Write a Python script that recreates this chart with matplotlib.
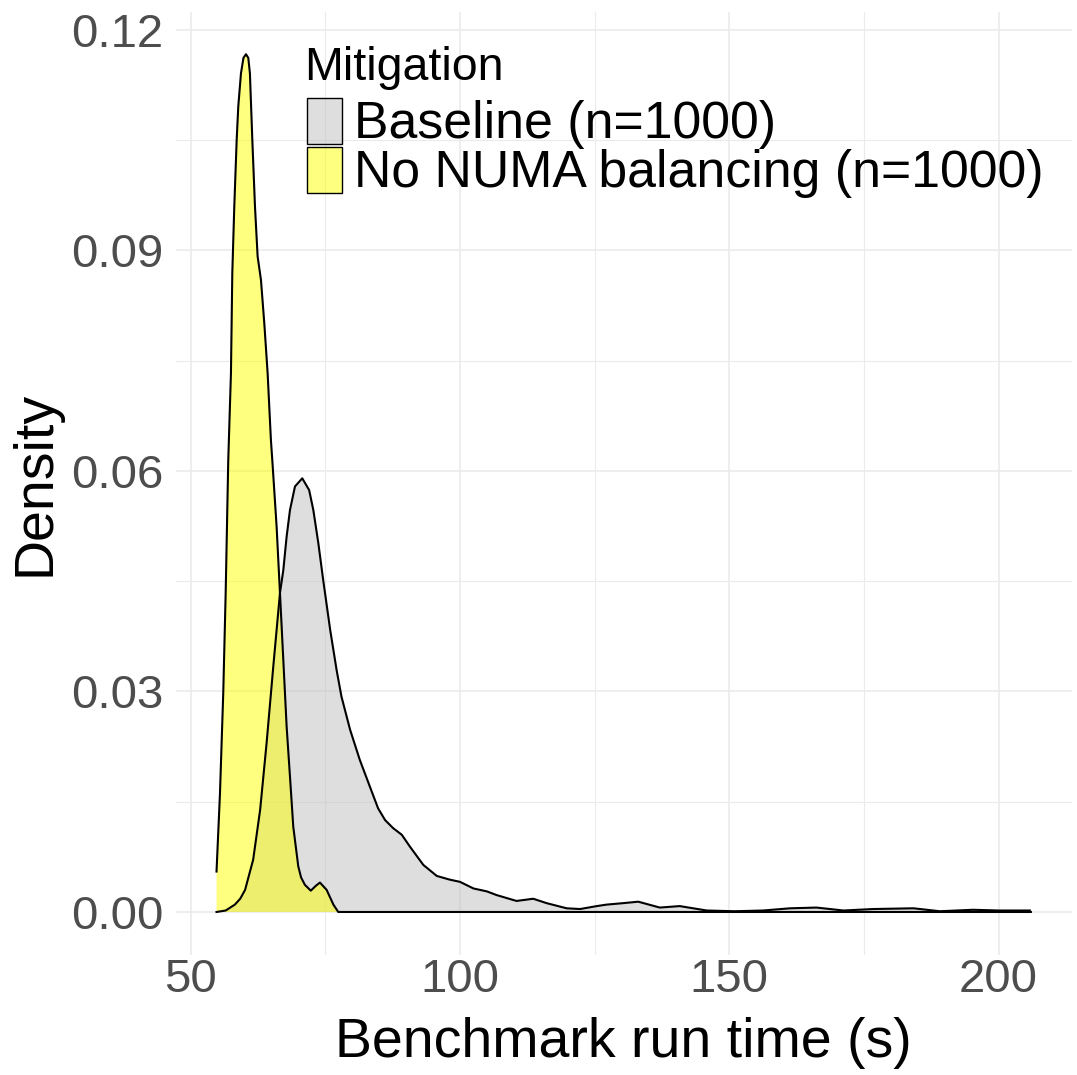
import matplotlib
matplotlib.use("Agg")
import matplotlib.pyplot as plt
from matplotlib.ticker import FormatStrFormatter, MultipleLocator
from matplotlib.patches import Rectangle

plt.rcParams['font.family'] = ['Liberation Sans', 'DejaVu Sans']

# density curves (run time in s, density)
base_x = [54.8, 56.5, 58.2, 59.2, 60.1, 61.6, 62.9, 64.1, 65.34, 66.58, 67.2, 67.82,
          68.44, 69.37, 70.72, 72.0, 72.77, 73.7, 74.6, 75.9, 77.1, 78.0, 79.6, 81.4,
          83.3, 84.8, 86.1, 87.6, 89.2, 90.7, 93.2, 95.7, 98.1, 100.0, 102.5, 105.0,
          106.8, 110.5, 113.6, 116.1, 119.8, 122.3, 125.4, 127.2, 130.3, 133.1, 137.1,
          140.8, 145.8, 151.0, 156.3, 161.3, 166.2, 171.2, 176.7, 184.2, 189.1, 195.3,
          200.0, 205.8]
base_y = [0.0, 0.0002, 0.001, 0.0018, 0.003, 0.0071, 0.0139, 0.023, 0.0334, 0.0434, 0.0465, 0.0511,
          0.0547, 0.0579, 0.059, 0.0574, 0.0547, 0.0502, 0.0452, 0.0384, 0.0329, 0.0293, 0.0248, 0.0207,
          0.017, 0.0141, 0.0125, 0.0114, 0.0105, 0.0089, 0.0064, 0.0049, 0.0044, 0.0041, 0.0032, 0.0028,
          0.0023, 0.0015, 0.0018, 0.0012, 0.0005, 0.0004, 0.0008, 0.001, 0.0012, 0.0014, 0.0006,
          0.0008, 0.0002, 0.0001, 0.0002, 0.0005, 0.0006, 0.0002, 0.0004, 0.0005, 0.0001, 0.0003,
          0.0002, 0.0002]

numa_x = [54.8, 55.44, 56.05, 56.5, 56.98, 57.48, 57.73, 58.1, 58.54, 58.84, 59.34,
          59.8, 60.27, 60.7, 61.0, 61.45, 61.94, 62.43, 63.05, 63.67, 64.29, 64.9,
          65.2, 65.96, 66.58, 67.2, 67.82, 68.44, 69.05, 69.98, 70.5, 71.2, 72.3, 73.3,
          74.0, 75.25, 76.5, 77.4, 80.0, 206.0]
numa_y = [0.0055, 0.0161, 0.0298, 0.0434, 0.0615, 0.0733, 0.0869, 0.096, 0.105, 0.1096, 0.1141,
          0.1162, 0.1167, 0.1162, 0.1141, 0.105, 0.096, 0.0892, 0.086, 0.0801, 0.0733, 0.0642,
          0.061, 0.0524, 0.0434, 0.0343, 0.0252, 0.0184, 0.0116, 0.0062, 0.0047, 0.0037, 0.0029,
          0.0036, 0.004, 0.003, 0.001, 0.0, 0.0, 0.0]

labels = ['Baseline (n=1000)', 'No NUMA balancing (n=1000)']
colors = ['#bebebe', '#ffff00']
series = [(base_x, base_y), (numa_x, numa_y)]

W, H = 1077, 1075
fig = plt.figure(figsize=(W / 100, H / 100), dpi=100)
# panel in pixels: left 175.8, right 1071.6, top 11.6, bottom 954.9
ax = fig.add_axes([175.8 / W, 1 - 954.9 / H, (1071.6 - 175.8) / W, (954.9 - 11.6) / H])

for (x, y), c in zip(series, colors):
    ax.fill_between(x, y, 0, facecolor=c, alpha=0.5, linewidth=0)
    ax.plot(x, y, color='black', linewidth=1.5, solid_joinstyle='round')

ax.set_xlim(47.24, 213.56)
ax.set_ylim(-0.00584, 0.1225)
ax.xaxis.set_major_locator(MultipleLocator(50))
ax.xaxis.set_minor_locator(MultipleLocator(25))
ax.yaxis.set_major_locator(MultipleLocator(0.03))
ax.yaxis.set_minor_locator(MultipleLocator(0.015))
ax.yaxis.set_major_formatter(FormatStrFormatter('%.2f'))

ax.grid(which='major', color='#ebebeb', linewidth=1.2)
ax.grid(which='minor', color='#ebebeb', linewidth=0.8)
ax.set_axisbelow(True)
for s in ax.spines.values():
    s.set_visible(False)
ax.tick_params(which='both', length=0)
ax.tick_params(axis='x', labelsize=34, labelcolor='#4d4d4d', pad=2.5)
ax.tick_params(axis='y', labelsize=34, labelcolor='#4d4d4d', pad=9.2)

ax.set_xlabel('Benchmark run time (s)', fontsize=40, va='baseline')
ax.xaxis.set_label_coords(0.5, -(1057 - 954.9) / (954.9 - 11.6))
ax.set_ylabel('Density', fontsize=40, va='center')
ax.yaxis.set_label_coords((36 - 175.8) / (1071.6 - 175.8), 0.5)

# legend, laid out like ggplot's
fig.text(304 / W, 1 - 80 / H, 'Mitigation', fontsize=33.5, va='baseline', ha='left')
key_top = [98.3, 146.7]
text_base = [138.3, 186.7]
for lab, c, kt, tb in zip(labels, colors, key_top, text_base):
    fig.patches.append(Rectangle((306.7 / W, 1 - (kt + 46) / H), 35 / W, 46 / H,
                                 transform=fig.transFigure, facecolor=c, alpha=0.5,
                                 edgecolor='none'))
    fig.patches.append(Rectangle((306.7 / W, 1 - (kt + 46) / H), 35 / W, 46 / H,
                                 transform=fig.transFigure, facecolor='none',
                                 edgecolor='black', linewidth=1.0))
    fig.text(354 / W, 1 - tb / H, lab, fontsize=37.3, va='baseline', ha='left')

fig.savefig('out.png', dpi=100)
